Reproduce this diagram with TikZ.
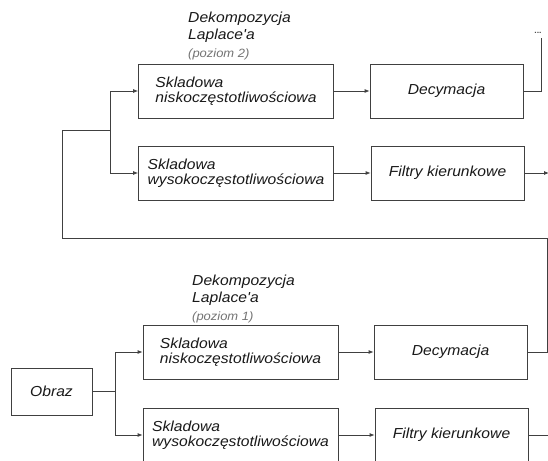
\documentclass[tikz,border=0pt]{standalone}
\usepackage{fontspec}
\newfontfamily\arial{Liberation Sans}[FakeStretch=1.08]
\usetikzlibrary{positioning, arrows.meta}

\tikzset{
  blok/.style={draw=black!75, line width=0.8pt, inner sep=0pt, align=left,
    text=black!90, font=\arial\itshape\fontsize{14.5}{15}\selectfont},
  skl/.style={blok, minimum width=195pt, minimum height=54pt},
  proc/.style={blok, minimum width=153pt, minimum height=54pt},
  tytul/.style={inner sep=0pt, align=left, text=black!90,
    font=\arial\itshape\fontsize{14.5}{17.5}\selectfont},
  poziom/.style={inner sep=0pt, text=black!55, font=\arial\itshape\fontsize{12}{14}\selectfont},
  lin/.style={draw=black!75, line width=0.8pt},
  strz/.style={lin, -{Latex[length=5pt, width=4pt]}}
}

\begin{document}
\begin{tikzpicture}[x=1pt, y=-1pt]
  \useasboundingbox (0,0) rectangle (548,460);
  \clip (0,0) rectangle (548,460);
  % poziom 2
  \node[tytul, anchor=north west] (lap2) at (188,11.5) {Dekompozycja\\Laplace'a};
  \node[poziom, anchor=base west] (poz2) at (188,57) {(poziom 2)};
  \node[skl] (sn2) at (236,91) {Skladowa\\niskoczęstotliwościowa};
  \node[skl] (sw2) at (236,173) {Skladowa\\wysokoczęstotliwościowa};
  \node[proc] (dec2) at (446.5,91) {Decymacja};
  \node[proc] (fil2) at (447.5,173) {Filtry kierunkowe};
  \node[inner sep=0pt, text=black!70, font=\arial\bfseries\fontsize{8}{9}\selectfont] (dalej) at (538,33) {...};
  % poziom 1
  \node[tytul, anchor=north west] (lap1) at (192,274.5) {Dekompozycja\\Laplace'a};
  \node[poziom, anchor=base west] (poz1) at (192,320) {(poziom 1)};
  \node[skl] (sn1) at (240.5,352) {Skladowa\\niskoczęstotliwościowa};
  \node[skl] (sw1) at (240.5,435) {Skladowa\\wysokoczęstotliwościowa};
  \node[proc] (dec1) at (450.5,352) {Decymacja};
  \node[proc] (fil1) at (451.5,435) {Filtry kierunkowe};
  \node[blok, minimum width=81pt, minimum height=47pt] (obraz) at (51.5,391.5) {Obraz};

  \coordinate (j1) at (115,391.5);
  \coordinate (j2) at (110,130);
  \coordinate (fbR) at (547,238);
  \coordinate (fbL) at (62,238);
  \coordinate (out2) at (549,173);
  \coordinate (out1) at (548,435);
  \coordinate (gora) at (541,38);

  % poziom 1 -> poziom 2
  \draw[lin] (obraz) -- (j1);
  \draw[strz] (j1) |- (sn1);
  \draw[strz] (j1) |- (sw1);
  \draw[strz] (sn1) -- (dec1);
  \draw[strz] (sw1) -- (fil1);
  \draw[lin] (fil1) -- (out1);
  \draw[lin] (dec1) -| (fbR) -- (fbL) |- (j2);
  \draw[strz] (j2) |- (sn2);
  \draw[strz] (j2) |- (sw2);
  \draw[strz] (sn2) -- (dec2);
  \draw[strz] (sw2) -- (fil2);
  \draw[strz] (fil2) -- (out2);
  \draw[lin] (dec2) -| (gora);
\end{tikzpicture}
\end{document}
